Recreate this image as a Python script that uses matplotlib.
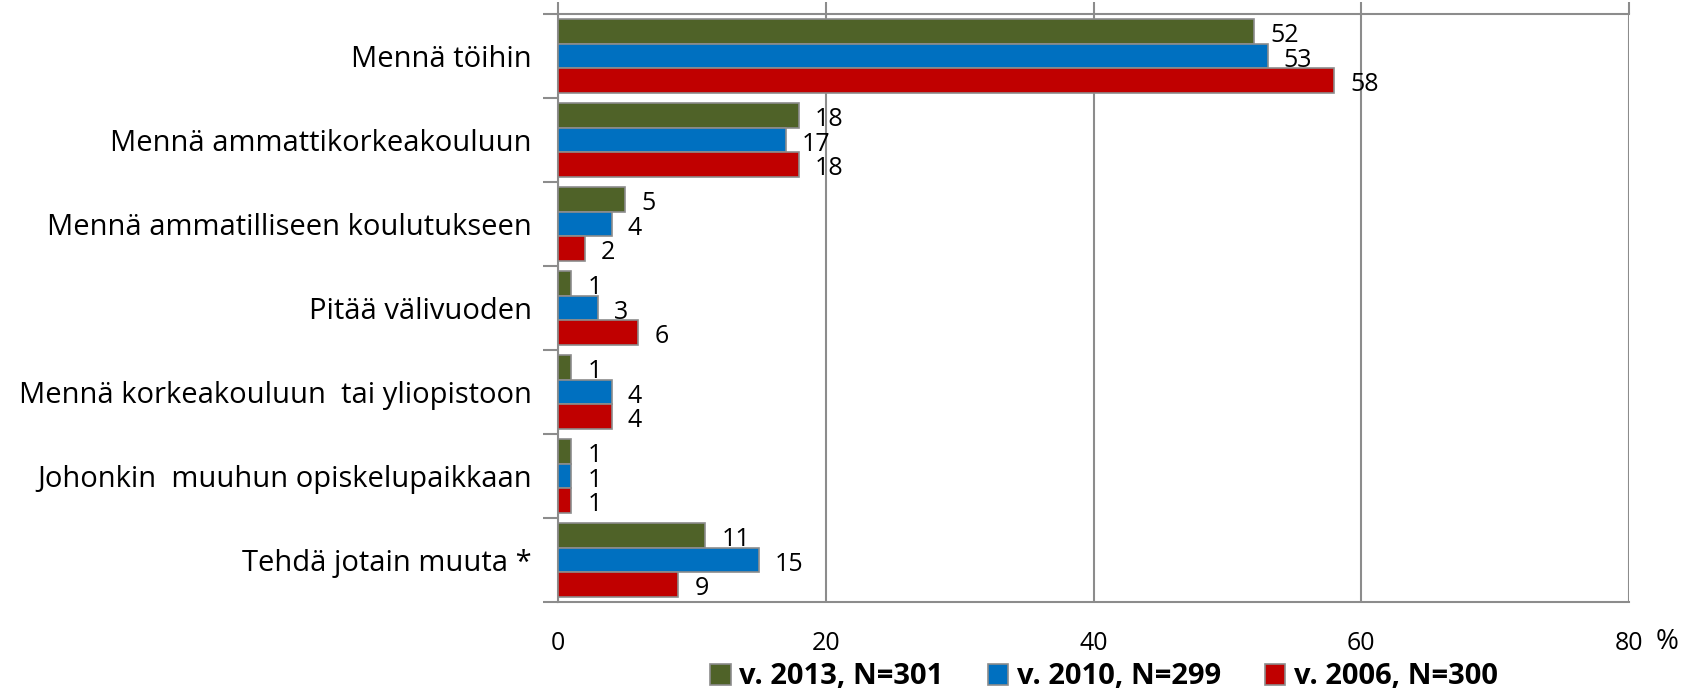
import numpy as np
import matplotlib
matplotlib.use('Agg')
import matplotlib.pyplot as plt
from matplotlib.ticker import FixedLocator

plt.rcParams['font.family'] = ['Open Sans', 'DejaVu Sans']

categories = ['Mennä töihin', 'Mennä ammattikorkeakouluun',
              'Mennä ammatilliseen koulutukseen', 'Pitää välivuoden',
              'Mennä korkeakouluun  tai yliopistoon',
              'Johonkin  muuhun opiskelupaikkaan', 'Tehdä jotain muuta *']
v2013 = [52, 18, 5, 1, 1, 1, 11]
v2010 = [53, 17, 4, 3, 4, 1, 15]
v2006 = [58, 18, 2, 6, 4, 1, 9]
series_labels = ['v. 2013, N=301', 'v. 2010, N=299', 'v. 2006, N=300']
colors = ['#4F6228', '#0070C0', '#C00000']
xticks = [0, 20, 40, 60, 80]

W, H = 1697, 693
fig = plt.figure(figsize=(W / 100, H / 100), dpi=100)
ax = fig.add_axes([558 / W, 1 - 602 / H, (1629 - 558) / W, (602 - 14) / H])

y = np.arange(len(categories))
bh = 0.29
grey = '#8C8C8C'
for k, (vals, col, lab) in enumerate(zip([v2013, v2010, v2006], colors, series_labels)):
    pos = y + (k - 1) * bh
    ax.barh(pos, vals, height=bh, color=col, edgecolor=grey, linewidth=1.2,
            label=lab, zorder=3)
    for p, v in zip(pos, vals):
        ax.text(v + 1.2, p + 0.05, str(v), va='center', ha='left', fontsize=18)

ax.set_xlim(0, 80)
ax.set_ylim(len(categories) - 0.5, -0.5)
ax.set_xticks(xticks)
ax.set_xticklabels([str(t) for t in xticks], fontsize=18)
ax.tick_params(axis='x', bottom=False, top=True, direction='out', length=9,
               color=grey, width=1.5, pad=12)
ax.grid(axis='x', color=grey, linewidth=1.5, zorder=0)

ax.set_yticks(y)
ax.set_yticklabels(categories, fontsize=21)
ax.yaxis.set_minor_locator(FixedLocator(np.arange(-0.5, len(categories), 1)))
ax.tick_params(axis='y', which='major', length=0, pad=19)
ax.tick_params(axis='y', which='minor', length=11, color=grey, width=1.5)

for s in ['top', 'bottom', 'left']:
    ax.spines[s].set_color(grey)
    ax.spines[s].set_linewidth(1.5)
ax.spines['right'].set_visible(False)

fig.text(1656 / W, 1 - 642 / H, '%', fontsize=20, ha='left', va='center')

leg = fig.legend(loc='center', bbox_to_anchor=(1104 / W, 1 - 677 / H), ncol=3,
                 frameon=False, prop={'weight': 'bold', 'size': 21},
                 handlelength=0.7, handleheight=0.7, handletextpad=0.3,
                 columnspacing=1.5)

fig.savefig('out.png', dpi=100)
